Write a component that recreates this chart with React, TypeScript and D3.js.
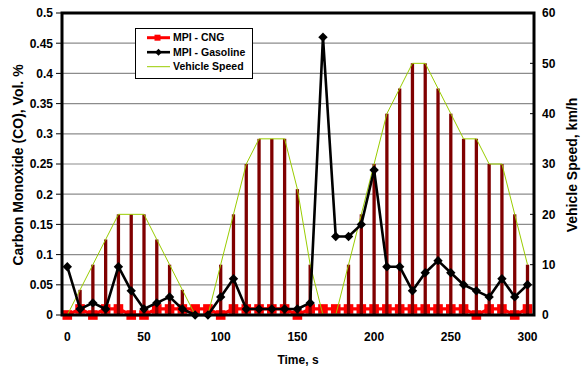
import React from "react";
import * as d3 from "d3";

const times = [0, 8.33, 16.67, 25, 33.33, 41.67, 50, 58.33, 66.67, 75, 83.33, 91.67, 100, 108.33, 116.67, 125, 133.33, 141.67, 150, 158.33, 166.67, 175, 183.33, 191.67, 200, 208.33, 216.67, 225, 233.33, 241.67, 250, 258.33, 266.67, 275, 283.33, 291.67, 300];
const speed = [0, 5, 10, 15, 20, 20, 20, 15, 10, 5, 0, 0, 10, 20, 30, 35, 35, 35, 25, 10, 0, 0, 10, 20, 30, 40, 45, 50, 50, 45, 40, 35, 35, 30, 30, 20, 10];
const gasoline = [0.08, 0.01, 0.02, 0.01, 0.08, 0.04, 0.01, 0.02, 0.03, 0.01, 0, 0, 0.03, 0.06, 0.01, 0.01, 0.01, 0.01, 0.01, 0.02, 0.46, 0.13, 0.13, 0.15, 0.24, 0.08, 0.08, 0.04, 0.07, 0.09, 0.07, 0.05, 0.04, 0.03, 0.06, 0.03, 0.05];
const cng = [0, 0.01, 0, 0.01, 0.01, 0, 0, 0.01, 0.01, 0.01, 0.01, 0.01, 0, 0.01, 0.01, 0.01, 0.01, 0.01, 0, 0.01, 0.01, 0.01, 0.01, 0.01, 0.01, 0.01, 0.01, 0.01, 0.01, 0.01, 0.01, 0.01, 0, 0.01, 0.01, 0, 0.01];
const xTicks = [0, 50, 100, 150, 200, 250, 300];
const coTicks = [0, 0.05, 0.1, 0.15, 0.2, 0.25, 0.3, 0.35, 0.4, 0.45, 0.5];
const speedTicks = [0, 10, 20, 30, 40, 50, 60];
const legendItems = ["MPI - CNG", "MPI - Gasoline", "Vehicle Speed"];

const FONT = "Arial, 'Liberation Sans', sans-serif";

export default function App() {
  const W = 582, H = 370;
  const left = 62, right = 534, top = 13, bottom = 315;
  const x = d3.scaleLinear().domain([0, 300]).range([67.3, 527.5]);
  const y = d3.scaleLinear().domain([0, 0.5]).range([bottom, top]);
  const y2 = d3.scaleLinear().domain([0, 60]).range([bottom, top]);

  const lineCO = d3.line<number>().x((_, i) => x(times[i])).y((d) => y(d));
  const lineSpeed = d3.line<number>().x((_, i) => x(times[i])).y((d) => y2(d));
  const diamond = (cx: number, cy: number, r: number) =>
    `M${cx},${cy - r}L${cx + r},${cy}L${cx},${cy + r}L${cx - r},${cy}Z`;

  return (
    <svg width={W} height={H} style={{ position: "absolute", left: 0, top: 0, background: "#fff" }} fontFamily={FONT}>
      <rect x={0} y={0} width={W} height={H} fill="#fff" />
      {/* gridlines */}
      {coTicks.slice(1, -1).map((t) => (
        <line key={t} x1={left} x2={right} y1={y(t)} y2={y(t)} stroke="#8c8c8c" strokeWidth={1.2} />
      ))}
      {/* CNG series */}
      <path d={lineCO(cng) || ""} fill="none" stroke="#ff0000" strokeWidth={3.2} />
      {cng.map((v, i) => (
        <rect key={i} x={x(times[i]) - 4.8} y={y(v) - 4.8} width={9.6} height={9.6} fill="#ff0000" />
      ))}
      {/* speed bars */}
      {speed.map((v, i) =>
        v > 0 ? (
          <line key={i} x1={x(times[i])} x2={x(times[i])} y1={y2(0)} y2={y2(v)} stroke="#800000" strokeWidth={3.3} />
        ) : null
      )}
      {/* speed line */}
      <path d={lineSpeed(speed) || ""} fill="none" stroke="#99cc00" strokeWidth={1} />
      {/* Gasoline series */}
      <path d={lineCO(gasoline) || ""} fill="none" stroke="#000" strokeWidth={2.6} strokeLinejoin="round" />
      {gasoline.map((v, i) => (
        <path key={i} d={diamond(x(times[i]), y(v), 4.7)} fill="#000" />
      ))}
      {/* frame */}
      <rect x={left} y={top} width={right - left} height={bottom - top} fill="none" stroke="#000" strokeWidth={3} />
      {/* left axis */}
      {coTicks.map((t) => (
        <g key={t}>
          <line x1={left - 6} x2={left} y1={y(t)} y2={y(t)} stroke="#000" strokeWidth={1} />
          <text x={53} y={y(t)} dy="0.36em" textAnchor="end" fontSize={12} fontWeight="bold">{t}</text>
        </g>
      ))}
      {/* right axis */}
      {speedTicks.map((t) => (
        <g key={t}>
          <line x1={right - 4} x2={right} y1={y2(t)} y2={y2(t)} stroke="#000" strokeWidth={1} />
          <text x={542} y={y2(t)} dy="0.36em" textAnchor="start" fontSize={12} fontWeight="bold">{t}</text>
        </g>
      ))}
      {/* x axis */}
      {xTicks.map((t) => (
        <text key={t} x={x(t)} y={337} dy="0.36em" textAnchor="middle" fontSize={12} fontWeight="bold">{t}</text>
      ))}
      <text x={298} y={360} dy="0.36em" textAnchor="middle" fontSize={12} fontWeight="bold">Time, s</text>
      <text transform="translate(18,165) rotate(-90)" dy="0.36em" textAnchor="middle" fontSize={14} fontWeight="bold">
        Carbon Monoxide (CO), Vol. %
      </text>
      <text transform="translate(572,165) rotate(-90)" dy="0.36em" textAnchor="middle" fontSize={14} fontWeight="bold">
        Vehicle Speed, km/h
      </text>
      {/* legend */}
      <rect x={135.5} y={28.5} width={117} height={50} fill="#fff" stroke="#000" strokeWidth={1} />
      {legendItems.map((name, i) => {
        const ly = 37.7 + i * 14.5;
        return (
          <g key={name}>
            {i === 0 && (
              <>
                <line x1={147} x2={170} y1={ly} y2={ly} stroke="#ff0000" strokeWidth={3} />
                <rect x={154.5} y={ly - 3} width={6} height={6} fill="#ff0000" />
              </>
            )}
            {i === 1 && (
              <>
                <line x1={147} x2={170} y1={ly} y2={ly} stroke="#000" strokeWidth={2.6} />
                <path d={diamond(158.5, ly, 3.5)} fill="#000" />
              </>
            )}
            {i === 2 && <line x1={147} x2={170} y1={ly} y2={ly} stroke="#99cc00" strokeWidth={1} />}
            <text x={173} y={ly} dy="0.36em" fontSize={10.5} fontWeight="bold">{name}</text>
          </g>
        );
      })}
    </svg>
  );
}
